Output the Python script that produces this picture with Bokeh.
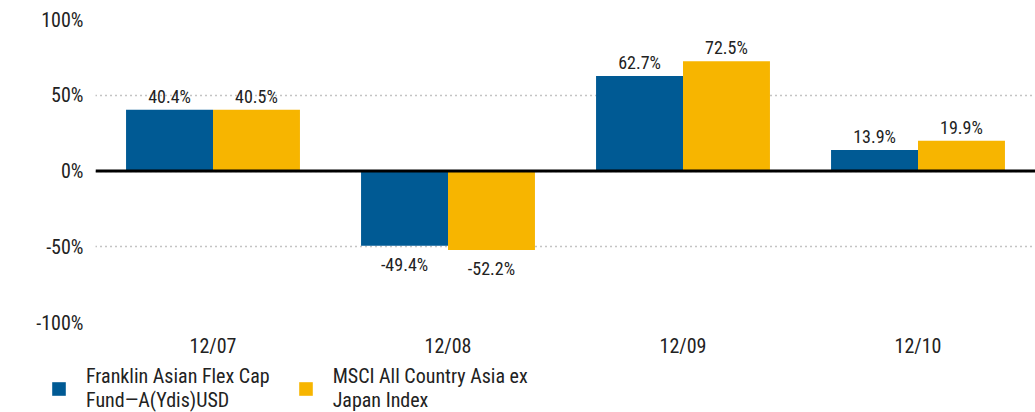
from bokeh.plotting import figure
from bokeh.layouts import column
from bokeh.models import (ColumnDataSource, FactorRange, Range1d, Span, Legend,
                          LegendItem, FixedTicker, PrintfTickFormatter)
from bokeh.transform import dodge
from bokeh.core.properties import value, field
from bokeh.embed import file_html
from bokeh.resources import INLINE

# ---- data ----
periods = ["12/07", "12/08", "12/09", "12/10"]
fund = [40.4, -49.4, 62.7, 13.9]
index = [40.5, -52.2, 72.5, 19.9]
series_names = ["Franklin Asian Flex Cap\nFund\u2014A(Ydis)USD",
                "MSCI All Country Asia ex\nJapan Index"]
y_ticks = [-100, -50, 0, 50, 100]

# ---- style ----
BLUE = "#005A94"
YELLOW = "#F7B500"
TEXT = "#222222"
FONT = "Roboto Condensed"
BAR_W = 0.37
OFF = 0.185
W = 1035
H_MAIN = 360
H_LEG = 52


def make_source(vals):
    return ColumnDataSource(dict(
        period=periods,
        val=vals,
        txt=[f"{v:.1f}%" for v in vals],
        base=["bottom" if v >= 0 else "top" for v in vals],
        off=[-3 if v >= 0 else 8 for v in vals],
    ))


src_f = make_source(fund)
src_i = make_source(index)

p = figure(x_range=FactorRange(*periods), y_range=Range1d(-100, 100),
           width=W, height=H_MAIN, output_backend="svg", toolbar_location=None,
           min_border_left=95, min_border_right=0, min_border_top=19,
           min_border_bottom=H_MAIN - 323)
p.outline_line_color = None
p.frame_align = False

r1 = p.vbar(x=dodge("period", -OFF, range=p.x_range), top="val", bottom=0,
            width=BAR_W, source=src_f, fill_color=BLUE, line_color=None)
r2 = p.vbar(x=dodge("period", OFF, range=p.x_range), top="val", bottom=0,
            width=BAR_W, source=src_i, fill_color=YELLOW, line_color=None)

for src, o in ((src_f, -OFF), (src_i, OFF)):
    p.text(x=dodge("period", o, range=p.x_range), y="val", text="txt",
           source=src, text_align="center", text_baseline=field("base"),
           y_offset=field("off"), text_font=value(FONT),
           text_font_size="18px", text_color=TEXT)

p.add_layout(Span(location=0, dimension="width", line_color="black",
                  line_width=3))

p.xgrid.grid_line_color = None
p.ygrid.ticker = FixedTicker(ticks=y_ticks)
p.ygrid.grid_line_color = "#888888"
p.ygrid.grid_line_dash = "1 4"
p.ygrid.grid_line_width = 1.5

p.yaxis.ticker = FixedTicker(ticks=y_ticks)
p.yaxis.formatter = PrintfTickFormatter(format="%d%%")
for ax in (p.xaxis, p.yaxis):
    ax.axis_line_color = None
    ax.major_tick_line_color = None
    ax.minor_tick_line_color = None
    ax.major_tick_out = 0
    ax.major_tick_in = 0
    ax.major_label_text_font = FONT
    ax.major_label_text_font_size = "20px"
    ax.major_label_text_color = TEXT
p.yaxis.major_label_standoff = 12
p.xaxis.major_label_standoff = 11

# ---- legend strip below the chart ----
q = figure(width=W, height=H_LEG, output_backend="svg", toolbar_location=None,
           x_range=FactorRange(*periods), y_range=Range1d(1000, 1001),
           x_axis_type=None, y_axis_type=None,
           min_border=0, min_border_left=0, min_border_right=0,
           min_border_top=0, min_border_bottom=0)
q.frame_align = False
q.grid.visible = False
q.outline_line_color = None
l1 = q.vbar(x="period", top="val", bottom=0, width=BAR_W, source=src_f,
            fill_color=BLUE, line_color=None)
l2 = q.vbar(x="period", top="val", bottom=0, width=BAR_W, source=src_i,
            fill_color=YELLOW, line_color=None)

legend = Legend(items=[LegendItem(label=series_names[0], renderers=[l1]),
                       LegendItem(label=series_names[1], renderers=[l2])],
                orientation="horizontal", location=(50, 0),
                glyph_width=17, glyph_height=17, label_standoff=19,
                spacing=27, padding=0, margin=0, border_line_color=None,
                background_fill_alpha=0, label_text_font=FONT,
                label_text_font_size="20px", label_text_color=TEXT,
                label_text_line_height=1.15)
q.add_layout(legend, "center")

open("out.html", "w").write(file_html(column(p, q, spacing=0), INLINE))
